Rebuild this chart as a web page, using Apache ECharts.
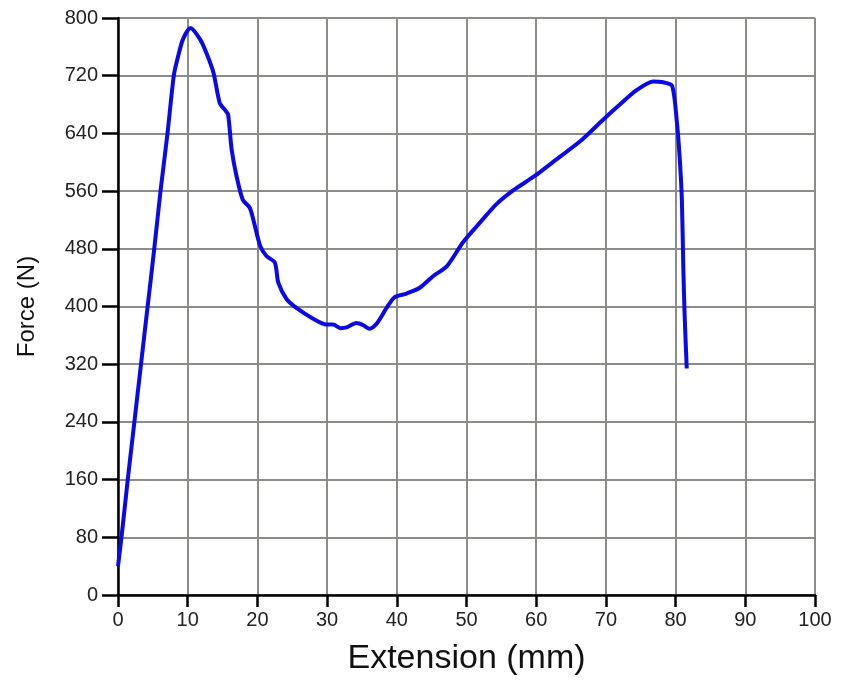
<!DOCTYPE html>
<html>
<head>
<meta charset="utf-8">
<script src="https://cdn.jsdelivr.net/npm/echarts@6/dist/echarts.min.js"></script>
<style>
  html, body { margin: 0; padding: 0; background: #fff; }
  #chart { width: 844px; height: 681px; }
</style>
</head>
<body>
<div id="chart"></div>
<script>
// extension (mm) / force (N)
var extension = [0, 0.5, 1.4, 2.35, 3.3, 4.25, 5.2, 6.1, 7.1, 8.0, 8.5, 9.3, 10.4, 11.8, 12.7, 13.7, 14.6, 15.4, 15.8,
  16.3, 17.0, 17.9, 18.9, 19.4, 20.4, 21.3, 22.5, 23.0, 24.2, 25.6, 28.0, 29.9, 30.9, 31.9, 32.8, 34.2,
  35.2, 36.1, 37.1, 38.6, 39.7, 41.4, 43.3, 45.2, 47.2, 49.5, 51.9, 54.3, 56.7, 59.8, 62.9, 66.3, 69.6,
  72.0, 74.4, 76.8, 78.2, 79.5, 80.2, 80.6, 80.9, 81.1, 81.3, 81.6];
var force = [40, 80, 160, 240, 320, 400, 480, 560, 640, 720, 742, 770, 786, 770, 751, 724, 682, 672, 666,
  618, 581, 548, 537, 521, 484, 470, 461, 433, 410, 398, 383, 375, 375, 370, 371, 377,
  374, 369, 376, 399, 413, 418, 426, 442, 456, 489, 516, 542, 561, 581, 604, 629, 659,
  680, 700, 712, 711, 706, 654, 604, 548, 456, 387, 314];

var xTicks = ['0', '10', '20', '30', '40', '50', '60', '70', '80', '90', '100'];

var points = [];
for (var i = 0; i < extension.length; i++) {
  points.push([extension[i], force[i]]);
}

var chart = echarts.init(document.getElementById('chart'), null, { renderer: 'canvas' });
var font = 'Liberation Sans, Arial, sans-serif';

var option = {
  animation: false,
  grid: { left: 118, right: 29, top: 18, bottom: 84 },
  xAxis: {
    type: 'value',
    min: 0,
    max: 100,
    interval: 10,
    name: 'Extension (mm)',
    nameLocation: 'middle',
    nameGap: 47,
    nameTextStyle: { fontSize: 34, color: '#111', fontFamily: font },
    axisLine: { onZero: false, lineStyle: { color: '#000', width: 2.5 } },
    axisTick: { show: true, length: 12, lineStyle: { color: '#000', width: 2.5 } },
    axisLabel: {
      fontSize: 20, color: '#222', fontFamily: font, margin: 15,
      formatter: function (v) { return xTicks[Math.round(v / 10)]; }
    },
    splitLine: { show: true, lineStyle: { color: '#8c8c88', width: 2 } }
  },
  yAxis: {
    type: 'value',
    min: 0,
    max: 800,
    interval: 80,
    name: 'Force (N)',
    nameLocation: 'middle',
    nameGap: 79,
    nameTextStyle: { fontSize: 24, color: '#111', fontFamily: font },
    axisLine: { show: true, lineStyle: { color: '#000', width: 2.5 } },
    axisTick: { show: true, length: 16, lineStyle: { color: '#000', width: 2.5 } },
    axisLabel: { fontSize: 20, color: '#222', fontFamily: font, margin: 20 },
    splitLine: { show: true, lineStyle: { color: '#8c8c88', width: 2 } }
  },
  series: [{
    type: 'line',
    data: points,
    showSymbol: false,
    smooth: 0.25,
    lineStyle: { color: '#0a0ae6', width: 4 },
    clip: false
  }]
};
chart.setOption(option);
</script>
</body>
</html>
